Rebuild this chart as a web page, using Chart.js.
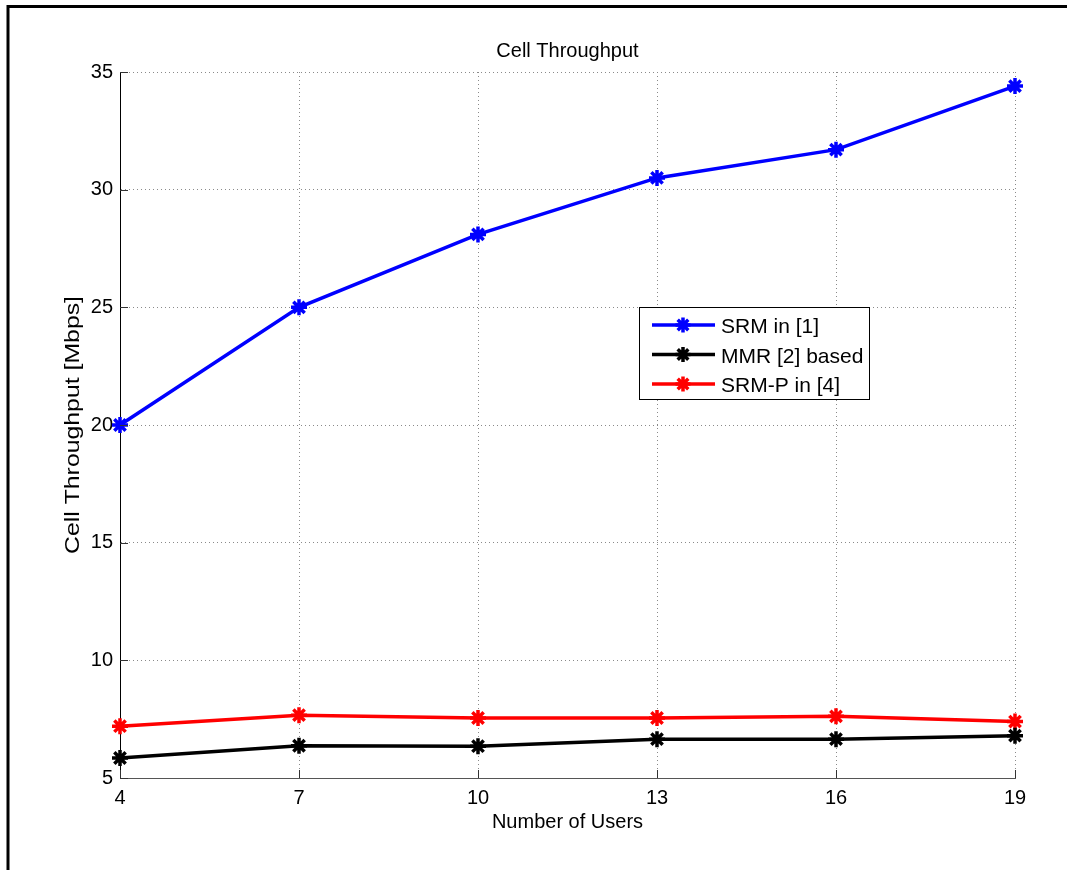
<!DOCTYPE html>
<html>
<head>
<meta charset="utf-8">
<script src="https://cdn.jsdelivr.net/npm/chart.js@4/dist/chart.umd.min.js"></script>
<style>
html,body{margin:0;padding:0;background:#fff;}
#wrap{width:1067px;height:870px;position:relative;}
</style>
</head>
<body>
<div id="wrap"><canvas id="c" width="1067" height="870"></canvas></div>
<script>
const users = [4, 7, 10, 13, 16, 19];
const srm = [20.0, 25.0, 28.1, 30.5, 31.7, 34.4];
const mmr = [5.85, 6.37, 6.35, 6.65, 6.65, 6.8];
const srmP = [7.2, 7.67, 7.55, 7.55, 7.62, 7.4];
const seriesNames = ['SRM in [1]', 'MMR [2] based', 'SRM-P in [4]'];
const seriesColors = ['#0000ff', '#000000', '#ff0000'];
const xTicks = [4, 7, 10, 13, 16, 19];
const yTicks = [5, 10, 15, 20, 25, 30, 35];
const titleText = 'Cell Throughput';
const xLabel = 'Number of Users';
const yLabel = 'Cell Throughput [Mbps]';

const FONT = '"Liberation Sans", Arial, sans-serif';

function mk(values, i) {
  return {
    label: seriesNames[i],
    data: users.map((u, k) => ({x: u, y: values[k]})),
    borderColor: seriesColors[i],
    backgroundColor: seriesColors[i],
    borderWidth: 3.5,
    pointStyle: 'star',
    pointRadius: 8,
    pointBorderWidth: 3.5,
    pointHoverRadius: 8,
    tension: 0,
    clip: false
  };
}

function drawStar(ctx, x, y, r, color, lw) {
  ctx.save();
  ctx.strokeStyle = color;
  ctx.lineWidth = lw;
  ctx.beginPath();
  for (let a = 0; a < 4; a++) {
    const ang = a * Math.PI / 4;
    ctx.moveTo(x - r * Math.cos(ang), y - r * Math.sin(ang));
    ctx.lineTo(x + r * Math.cos(ang), y + r * Math.sin(ang));
  }
  ctx.stroke();
  ctx.restore();
}

const decor = {
  id: 'decor',
  beforeDraw(chart) {
    const ctx = chart.ctx;
    ctx.save();
    ctx.fillStyle = '#fff';
    ctx.fillRect(0, 0, chart.width, chart.height);
    ctx.strokeStyle = '#000';
    ctx.lineWidth = 3;
    ctx.beginPath();
    ctx.moveTo(8, 870);
    ctx.lineTo(8, 6.5);
    ctx.lineTo(1067, 6.5);
    ctx.stroke();
    ctx.restore();
  },
  afterDatasetsDraw(chart) {
    const ctx = chart.ctx;
    const a = chart.chartArea;
    const xs = chart.scales.x, ys = chart.scales.y;
    ctx.save();
    // inward ticks
    ctx.strokeStyle = '#333';
    ctx.lineWidth = 1;
    ctx.beginPath();
    yTicks.forEach(v => {
      const py = Math.round(ys.getPixelForValue(v)) + 0.5;
      ctx.moveTo(a.left, py); ctx.lineTo(a.left + 8, py);
    });
    xTicks.forEach(v => {
      const px = Math.round(xs.getPixelForValue(v)) + 0.5;
      ctx.moveTo(px, a.bottom); ctx.lineTo(px, a.bottom - 8);
    });
    ctx.stroke();
    // title
    ctx.fillStyle = '#000';
    ctx.font = '20px ' + FONT;
    ctx.textAlign = 'center';
    ctx.textBaseline = 'alphabetic';
    ctx.fillText(titleText, (a.left + a.right) / 2, 57);
    // x label
    ctx.fillText(xLabel, (a.left + a.right) / 2, 828);
    // y label (stretched along its length as in the reference)
    ctx.save();
    ctx.translate(79, (a.top + a.bottom) / 2);
    ctx.rotate(-Math.PI / 2);
    const w = ctx.measureText(yLabel).width;
    ctx.scale(258 / w, 1);
    ctx.fillText(yLabel, 0, 0);
    ctx.restore();
    // legend
    const lx = 639.5, ly = 307.5, lw = 230, lh = 92;
    ctx.fillStyle = '#fff';
    ctx.fillRect(lx, ly, lw, lh);
    ctx.strokeStyle = '#000';
    ctx.lineWidth = 1;
    ctx.strokeRect(lx, ly, lw, lh);
    ctx.font = '21px ' + FONT;
    ctx.textAlign = 'left';
    ctx.textBaseline = 'alphabetic';
    seriesNames.forEach((n, i) => {
      const y = 325 + i * 29.5;
      ctx.strokeStyle = seriesColors[i];
      ctx.lineWidth = 3.5;
      ctx.beginPath();
      ctx.moveTo(652, y); ctx.lineTo(715, y);
      ctx.stroke();
      drawStar(ctx, 683, y, 7.5, seriesColors[i], 3.5);
      ctx.fillStyle = '#000';
      ctx.fillText(n, 721, y + 8);
    });
    ctx.restore();
  }
};

new Chart(document.getElementById('c'), {
  type: 'line',
  data: { datasets: [mk(srm, 0), mk(mmr, 1), mk(srmP, 2)] },
  options: {
    responsive: false,
    animation: false,
    devicePixelRatio: 1,
    layout: { padding: { top: 72, right: 52, bottom: 0, left: 0 } },
    plugins: { legend: { display: false }, title: { display: false }, tooltip: { enabled: false } },
    scales: {
      x: {
        type: 'linear',
        min: 4, max: 19,
        afterBuildTicks(s) { s.ticks = xTicks.map(v => ({value: v})); },
        afterFit(s) { s.height = 92; },
        ticks: { color: '#000', font: { size: 20, family: FONT }, padding: 8, maxRotation: 0 },
        grid: { color: '#8a8a8a', lineWidth: 1, drawTicks: false },
        border: { display: true, color: '#555', width: 1, dash: [1, 3] }
      },
      y: {
        type: 'linear',
        min: 5, max: 35,
        afterBuildTicks(s) { s.ticks = yTicks.map(v => ({value: v})); },
        afterFit(s) { s.width = 120; },
        ticks: { color: '#000', font: { size: 20, family: FONT }, padding: 7 },
        grid: { color: '#8a8a8a', lineWidth: 1, drawTicks: false },
        border: { display: true, color: '#000', width: 1, dash: [1, 3] }
      }
    }
  },
  plugins: [decor]
});
</script>
</body>
</html>
